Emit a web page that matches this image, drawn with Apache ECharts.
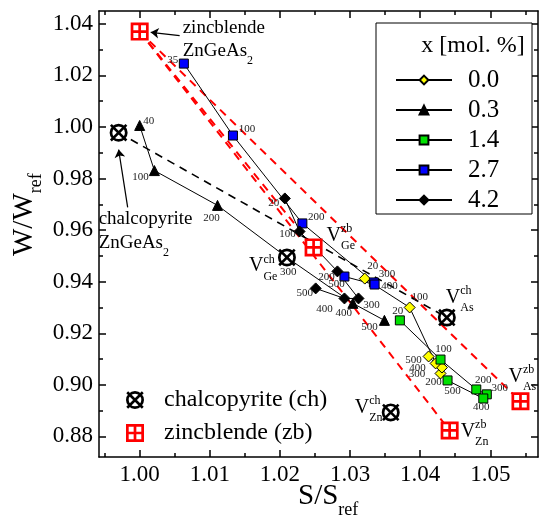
<!DOCTYPE html>
<html><head><meta charset="utf-8">
<script src="https://cdn.jsdelivr.net/npm/echarts@6/dist/echarts.min.js"></script>
<style>html,body{margin:0;padding:0;background:#fff}#c{width:543px;height:518px}</style>
</head><body><div id="c"></div>
<script>
const FONT = 'Liberation Serif';

// ---------------- data: S/S_ref (x) and W/W_ref (y) ----------------
const seriesNames = ['0.0', '0.3', '1.4', '2.7', '4.2'];

const t00 = ['20', '100', '200', '300', '400', '500'];
const s00 = [1.0321, 1.0385, 1.0429, 1.0431, 1.0422, 1.0412];
const w00 = [0.9412, 0.9300, 0.9044, 0.9067, 0.9083, 0.9110];

const t03 = ['40', '100', '200', '300', '400', '500'];
const s03 = [1.0000, 1.0021, 1.0111, 1.0212, 1.0304, 1.0349];
const w03 = [1.0006, 0.9831, 0.9696, 0.9490, 0.9316, 0.9250];

const t14 = ['20', '100', '200', '300', '400', '500'];
const s14 = [1.0371, 1.0429, 1.0480, 1.0495, 1.0490, 1.0439];
const w14 = [0.9250, 0.9098, 0.8982, 0.8963, 0.8947, 0.9017];

const t27 = ['35', '100', '200', '300', '400', '500'];
const s27 = [1.0063, 1.0133, 1.0232, 1.0334, 1.0335, 1.0292];
const w27 = [1.0246, 0.9967, 0.9626, 0.9397, 0.9389, 0.9420];

const t42 = ['20', '100', '200', '300', '400', '500'];
const s42 = [1.0207, 1.0228, 1.0282, 1.0312, 1.0292, 1.0251];
const w42 = [0.9723, 0.9595, 0.9440, 0.9335, 0.9335, 0.9374];

// reference structures: ZnGeAs2, V_Ge, V_As, V_Zn
const chS = [0.9970, 1.0210, 1.0438, 1.0358];
const chW = [0.9978, 0.9494, 0.9261, 0.8893];
const zbS = [1.0000, 1.0248, 1.0543, 1.0442];
const zbW = [1.0370, 0.9533, 0.8936, 0.8823];

// axis ticks
const xTicks = [1.00, 1.01, 1.02, 1.03, 1.04, 1.05];
const xMinor = [0.995, 1.005, 1.015, 1.025, 1.035, 1.045, 1.055];
const yTicks = [0.88, 0.90, 0.92, 0.94, 0.96, 0.98, 1.00, 1.02, 1.04];
const yMinor = [0.89, 0.91, 0.93, 0.95, 0.97, 0.99, 1.01, 1.03];

// annotation arrows (tail -> head), data units
const arrowZb = [[1.0057, 1.03546], [1.00157, 1.03674]];
const arrowCh = [[0.99829, 0.9688], [0.99700, 0.99126]];

// ---------------- styles ----------------
const X_MIN = 0.9942, X_MAX = 1.0568, Y_MIN = 0.872, Y_MAX = 1.045;

const serStyle = {
  '0.0': { symbol: 'diamond', size: 11, color: '#ffff00' },
  '0.3': { symbol: 'triangle', size: 10, color: '#000000' },
  '1.4': { symbol: 'rect', size: 9, color: '#00e000' },
  '2.7': { symbol: 'rect', size: 9, color: '#0000ff' },
  '4.2': { symbol: 'diamond', size: 11, color: '#000000' }
};
const labelOff = {
  '0.0': [[8, -12], [10, -10], [-7, 9], [-25, 7], [-18, 5], [-15, 4]],
  '0.3': [[9, -4], [-14, 7], [-6, 13], [0, 14], [-9, 10], [-15, 7]],
  '1.4': [[-2, -9], [3, -10], [7, -9], [13, -6], [-2, 9], [5, 11]],
  '2.7': [[-11, -3], [14, -6], [14, -6], [13, -8], [15, 2], [-8, 8]],
  '4.2': [[-11, 5], [-12, 3], [-11, 6], [13, 7], [-20, 11], [-11, 5]]
};
const seriesData = {
  '0.0': [s00, w00, t00], '0.3': [s03, w03, t03], '1.4': [s14, w14, t14],
  '2.7': [s27, w27, t27], '4.2': [s42, w42, t42]
};

const CH_PATH = 'path://M21 12A9 9 0 1 1 3 12A9 9 0 1 1 21 12Z M18.3 12A6.3 6.3 0 1 0 5.7 12A6.3 6.3 0 1 0 18.3 12Z M5.14 3.3L20.7 18.86L18.86 20.7L3.3 5.14Z M20.7 5.14L5.14 20.7L3.3 18.86L18.86 3.3Z';
const ZB_PATH = 'path://M2 2L22 2L22 22L2 22Z M5 5L5 19L19 19L19 5Z M10.5 5L13.5 5L13.5 19L10.5 19Z M5 10.5L19 10.5L19 13.5L5 13.5Z';

function mkX(pos, vals, len, labels, line) {
  return {
    type: 'value', position: pos, min: X_MIN, max: X_MAX, gridIndex: 0,
    axisLine: { show: line, onZero: false, lineStyle: { color: '#000', width: 1.5 } },
    axisTick: { show: true, inside: true, length: len, customValues: vals, lineStyle: { color: '#000', width: 1.5 } },
    axisLabel: { show: labels, customValues: vals, formatter: v => (+v).toFixed(2), margin: 6,
      fontFamily: FONT, fontSize: 23, color: '#000' },
    splitLine: { show: false }
  };
}
function mkY(pos, vals, len, labels, line) {
  return {
    type: 'value', position: pos, min: Y_MIN, max: Y_MAX, gridIndex: 0,
    axisLine: { show: line, onZero: false, lineStyle: { color: '#000', width: 1.5 } },
    axisTick: { show: true, inside: true, length: len, customValues: vals, lineStyle: { color: '#000', width: 1.5 } },
    axisLabel: { show: labels, customValues: vals, formatter: v => (+v).toFixed(2), margin: 6,
      fontFamily: FONT, fontSize: 23, color: '#000' },
    splitLine: { show: false }
  };
}

const series = [];
// dashed guide lines
for (let i = 1; i < 4; i++) {
  series.push({
    type: 'line', data: [[zbS[0], zbW[0]], [zbS[i], zbW[i]]], symbol: 'none', silent: true,
    lineStyle: { color: '#ff0000', width: 2, type: [8, 6] }, z: 1
  });
}
series.push({
  type: 'line', data: [[chS[0], chW[0]], [chS[2], chW[2]]], symbol: 'none', silent: true,
  lineStyle: { color: '#000', width: 1.6, type: [8, 6] }, z: 1
});
// data series
seriesNames.forEach(n => {
  const [xs, ys, ts] = seriesData[n];
  const st = serStyle[n];
  series.push({
    type: 'line', name: n, z: 2,
    data: xs.map((x, i) => ({ value: [x, ys[i]], label: { offset: labelOff[n][i] } })),
    symbol: st.symbol, symbolSize: st.size, showAllSymbol: true,
    lineStyle: { color: '#000', width: 1 },
    itemStyle: { color: st.color, borderColor: '#000', borderWidth: 1, opacity: 1 },
    label: { show: true, position: 'inside', formatter: p => ts[p.dataIndex],
      fontFamily: FONT, fontSize: 11, color: '#222' }
  });
});
// arrows
series.push({
  type: 'lines', coordinateSystem: 'cartesian2d', silent: true, z: 2,
  symbol: ['none', 'arrow'], symbolSize: 8,
  lineStyle: { color: '#000', width: 1.2, opacity: 1 },
  data: [{ coords: arrowZb }, { coords: arrowCh }]
});
// white backing for reference markers
series.push({ type: 'scatter', silent: true, z: 3, symbol: 'circle', symbolSize: 16,
  itemStyle: { color: '#fff', opacity: 1 }, data: chS.map((x, i) => [x, chW[i]]) });
series.push({ type: 'scatter', silent: true, z: 3, symbol: 'rect', symbolSize: 16,
  itemStyle: { color: '#fff', opacity: 1 }, data: zbS.map((x, i) => [x, zbW[i]]) });
// reference markers
series.push({ type: 'scatter', name: 'chalcopyrite (ch)', z: 4, symbol: CH_PATH, symbolSize: 18,
  itemStyle: { color: '#000', opacity: 1 }, data: chS.map((x, i) => [x, chW[i]]) });
series.push({ type: 'scatter', name: 'zincblende (zb)', z: 4, symbol: ZB_PATH, symbolSize: 18,
  itemStyle: { color: '#ff0000', opacity: 1 }, data: zbS.map((x, i) => [x, zbW[i]]) });

const option = {
  animation: false,
  backgroundColor: '#fff',
  grid: { left: 99, right: 5, top: 11, bottom: 61, containLabel: false },
  xAxis: [mkX('bottom', xTicks, 7, true, true), mkX('bottom', xMinor, 4, false, false),
          mkX('top', xTicks, 7, false, true), mkX('top', xMinor, 4, false, false)],
  yAxis: [mkY('left', yTicks, 7, true, true), mkY('left', yMinor, 4, false, false),
          mkY('right', yTicks, 7, false, true), mkY('right', yMinor, 4, false, false)],
  legend: [
    { data: seriesNames, orient: 'vertical', left: 390, top: 62, itemWidth: 56, itemHeight: 11,
      itemGap: 4, selectedMode: false, z: 6,
      textStyle: { fontFamily: FONT, fontSize: 25, color: '#000', lineHeight: 26, padding: [0, 0, 0, 11] } },
    { data: ['chalcopyrite (ch)', 'zincblende (zb)'], orient: 'vertical', left: 121, top: 382,
      itemWidth: 18, itemHeight: 18, itemGap: 7, selectedMode: false, z: 6,
      textStyle: { fontFamily: FONT, fontSize: 24, color: '#000', lineHeight: 26, padding: [0, 0, 0, 15] } }
  ],
  series
};

const chart = echarts.init(document.getElementById('c'), null, { renderer: 'canvas' });
chart.setOption(option);

// ---------------- text annotations ----------------
const cv = document.createElement('canvas').getContext('2d');
function tw(s, size) { cv.font = size + 'px "' + FONT + '"'; return cv.measureText(s).width; }
function txt(s, x, y, size, extra) {
  return Object.assign({ type: 'text', x, y, z: 50,
    style: { text: s, fontFamily: FONT, fontSize: size, fill: '#000', align: 'left', verticalAlign: 'middle' } }, extra || {});
}
const px = (x, y) => chart.convertToPixel({ seriesIndex: 4 }, [x, y]);
const g = [];

// legend box and title
g.push({ type: 'rect', z: 5, shape: { x: 376, y: 23, width: 156, height: 191 },
  style: { fill: '#fff', stroke: '#000', lineWidth: 1 } });
g.push({ type: 'text', x: 473, y: 46, z: 50, style: { text: 'x [mol. %]', fontFamily: FONT, fontSize: 24,
  fill: '#000', align: 'center', verticalAlign: 'middle' } });

// axis titles
const sw = tw('S/S', 29);
g.push(txt('S/S', 298, 496, 29));
g.push(txt('ref', 298 + sw, 510, 18));
const ww = tw('W/W', 29);
g.push({ type: 'group', x: 24, y: 256, rotation: Math.PI / 2, children: [
  txt('W/W', 0, 0, 29), txt('ref', ww, 12, 18)
] });

// structure names
const pz = px(zbS[0], zbW[0]);
const pc = px(chS[0], chW[0]);
const zw = tw('ZnGeAs', 19);
g.push(txt('zincblende', pz[0] + 43, pz[1] - 4, 19));
g.push(txt('ZnGeAs', pz[0] + 43, pz[1] + 19, 19));
g.push(txt('2', pz[0] + 43 + zw, pz[1] + 29, 12));
g.push(txt('chalcopyrite', pc[0] - 20, pc[1] + 86, 19));
g.push(txt('ZnGeAs', pc[0] - 20, pc[1] + 110, 19));
g.push(txt('2', pc[0] - 20 + zw, pc[1] + 120, 12));

// vacancy labels: [type, index, sup, sub, dx, dy]
const vLabels = [
  ['ch', 1, 'ch', 'Ge', -38, 8.5], ['zb', 1, 'zb', 'Ge', 13, -12],
  ['ch', 2, 'ch', 'As', -1, -20], ['zb', 2, 'zb', 'As', -12, -25],
  ['ch', 3, 'ch', 'Zn', -36, -5], ['zb', 3, 'zb', 'Zn', 11, 1]
];
const vw = tw('V', 20);
vLabels.forEach(([t, i, sup, sub, dx, dy]) => {
  const p = t === 'ch' ? px(chS[i], chW[i]) : px(zbS[i], zbW[i]);
  const x = p[0] + dx, y = p[1] + dy;
  g.push(txt('V', x, y, 20));
  g.push(txt(sup, x + vw, y - 6.5, 12));
  g.push(txt(sub, x + vw, y + 10.5, 12));
});
chart.setOption({ graphic: { elements: g } });
</script></body></html>
